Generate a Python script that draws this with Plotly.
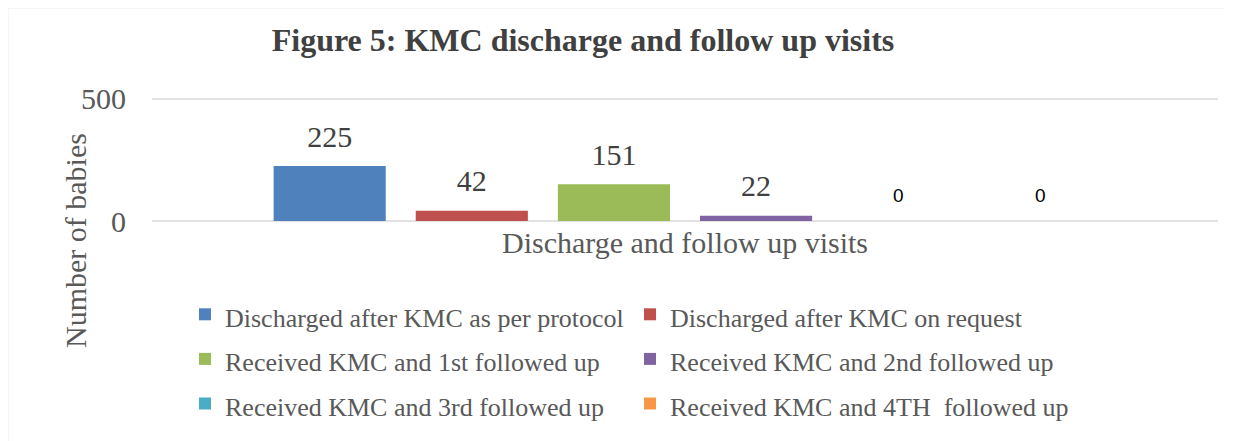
import plotly.graph_objects as go

category = ["Discharge and follow up visits"]
series_names = [
    "Discharged after KMC as per protocol",
    "Discharged after KMC on request",
    "Received KMC and 1st followed up",
    "Received KMC and 2nd followed up",
    "Received KMC and 3rd followed up",
    "Received KMC and 4TH  followed up",
]
series_values = [225, 42, 151, 22, 0, 0]
series_colors = ["#4F81BD", "#C0504D", "#9BBB59", "#8064A2", "#4BACC6", "#F79646"]
y_ticks = [0, 500]
y_title = "Number of babies"

# page body adds an 8px offset, so the figure is 8px smaller than the window
W, H = 1225, 433
L, R, T, B = 144, 15, 90, 219
PW, PH = W - L - R, H - T - B

SERIF = "Liberation Serif, Times New Roman, serif"
SANS = "Liberation Sans, Arial, sans-serif"

fig = go.Figure()
for name, val, col in zip(series_names, series_values, series_colors):
    if val == 0:
        label = f"<span style='font-size:19px;font-family:{SANS};color:#000000'>{val}</span><br>\u00a0"
    else:
        label = f"<span style='font-size:30px'>{val}</span><br>\u00a0"
    fig.add_trace(go.Bar(
        x=category, y=[val],
        name=f"<span style='font-size:26px'>{name}</span>",
        marker=dict(color=col, line=dict(width=0)),
        text=[label], textposition="outside",
        textfont=dict(family=SERIF, size=11, color="#404040"),
        cliponaxis=False, hoverinfo="skip",
    ))

fig.update_layout(
    width=W, height=H,
    margin=dict(l=L, r=R, t=T, b=B, autoexpand=False),
    paper_bgcolor="white", plot_bgcolor="white",
    barmode="group", bargap=0.2, bargroupgap=0.211,
    font=dict(family=SERIF, color="#595959"),
    title=dict(text="<b>Figure 5: KMC discharge and follow up visits</b>",
               x=575 / W, xref="container", xanchor="center",
               y=1 - 32 / H, yref="container", yanchor="middle",
               font=dict(size=32, color="#404040")),
    yaxis=dict(range=[-4, 504], tickvals=y_ticks, showgrid=True, gridcolor="#D9D9D9",
               gridwidth=1.5, zeroline=False, showline=False, ticks="",
               ticklabelstandoff=25, automargin=False,
               tickfont=dict(size=30, color="#595959")),
    xaxis=dict(showline=False, ticks="", automargin=False,
               tickfont=dict(size=30, color="#595959")),
    legend=dict(orientation="h", x=(177 - L) / PW, xanchor="left",
                y=-(279 - (H - B)) / PH, yanchor="top",
                entrywidth=400, entrywidthmode="pixels",
                font=dict(size=32, color="#595959"), itemwidth=30,
                traceorder="normal"),
    showlegend=True,
)

# horizontal gridlines at the y tick values
for tv in y_ticks:
    fig.add_shape(type="line", xref="paper", yref="y", x0=0, x1=1, y0=tv, y1=tv,
                  line=dict(color="#D9D9D9", width=1.5), layer="below")

# y-axis title, centred on the whole chart body as in the original
fig.add_annotation(text=y_title, textangle=-90, xref="paper", yref="paper",
                   x=(67 - L) / PW, y=(H - B - 233) / PH, xanchor="center", yanchor="middle",
                   showarrow=False, font=dict(size=30, color="#595959", family=SERIF))

# outer chart border
fig.add_shape(type="rect", xref="paper", yref="paper",
              x0=(-0.5 - L) / PW, x1=(1240 - L) / PW,
              y0=(H - B - 450) / PH, y1=(H - B + 0.5) / PH,
              line=dict(color="#D9D9D9", width=1.5), fillcolor="rgba(0,0,0,0)", layer="below")

fig.write_html("out.html")
